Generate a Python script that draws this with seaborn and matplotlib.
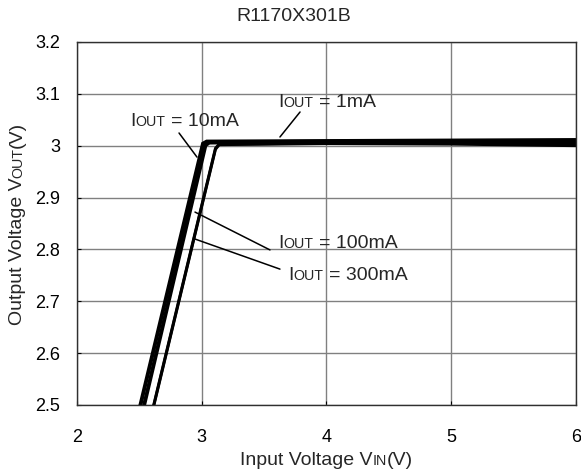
import numpy as np
import pandas as pd
import seaborn as sns
import matplotlib.pyplot as plt
from matplotlib.transforms import offset_copy

# >>>>>>  data  <<<<<<<
vin_1ma = [2.40, 3.01, 3.04, 4.0, 5.0, 6.0]
vout_1ma = [2.391, 3.004, 3.008, 3.009, 3.010, 3.011]
vin_10ma = [2.40, 3.03, 3.06, 4.0, 5.0, 6.0]
vout_10ma = [2.359, 3.001, 3.006, 3.008, 3.008, 3.009]
vin_100ma = [2.50, 3.11, 3.14, 4.0, 5.0, 6.0]
vout_100ma = [2.385, 2.995, 3.003, 3.005, 3.005, 3.004]
vin_300ma = [2.50, 3.11, 3.14, 4.0, 5.0, 6.0]
vout_300ma = [2.383, 2.993, 3.002, 3.004, 3.003, 3.000]

x_ticks = [2, 3, 4, 5, 6]
y_ticks = [2.5, 2.6, 2.7, 2.8, 2.9, 3.0, 3.1, 3.2]
y_tick_labels = ["2.5", "2.6", "2.7", "2.8", "2.9", "3", "3.1", "3.2"]

series = [
    ("1mA", vin_1ma, vout_1ma, 2.8),
    ("10mA", vin_10ma, vout_10ma, 2.8),
    ("100mA", vin_100ma, vout_100ma, 2.1),
    ("300mA", vin_300ma, vout_300ma, 2.1),
]

sns.set_style("ticks")
plt.rcParams["font.family"] = ["Liberation Sans", "DejaVu Sans"]

BIG = 14
SMALL = 10.3


def advance(fig, s, size):
    # text advance width in pixels (keeps spaces)
    r = fig.canvas.get_renderer()
    a = fig.text(0, 0, "|" + s + "|", fontsize=size)
    b = fig.text(0, 0, "||", fontsize=size)
    w = a.get_window_extent(r).width - b.get_window_extent(r).width
    a.remove()
    b.remove()
    return w


def rich_text(ax, x, y, pieces, transform, rotation=0, center=False):
    fig = ax.figure
    advs = [advance(fig, s, sz) for s, sz in pieces]
    off = -sum(advs) / 2 if center else 0.0
    for (s, sz), w in zip(pieces, advs):
        lead = len(s) - len(s.lstrip(" "))
        shift = off + lead * advance(fig, " ", sz)
        dx, dy = (shift, 0) if rotation == 0 else (0, shift)
        tr = offset_copy(transform, fig=fig, x=dx, y=dy, units="dots")
        ax.text(x, y, s.strip(" "), fontsize=sz, transform=tr, rotation=rotation,
                rotation_mode="anchor", ha="left", va="baseline", clip_on=False)
        off += w


fig, ax = plt.subplots(figsize=(5.81, 4.76), dpi=100)
fig.subplots_adjust(left=0.1325, right=0.9914, bottom=0.1492, top=0.9118)

for name, vx, vy, lw in series:
    sns.lineplot(x=vx, y=vy, ax=ax, color="black", linewidth=lw, sort=False,
                 solid_joinstyle="miter")

ax.set_xlim(2, 6)
ax.set_ylim(2.5, 3.2)
ax.set_xticks(x_ticks)
ax.set_yticks(y_ticks)
ax.set_yticklabels(y_tick_labels)
ax.tick_params(direction="in", length=3, labelsize=13, colors="black")
ax.tick_params(axis="x", pad=17)
ax.tick_params(axis="y", pad=12)
ax.grid(True, color="#808080", linewidth=1.0)
ax.set_axisbelow(True)
for sp in ax.spines.values():
    sp.set_color("#303030")
    sp.set_linewidth(1.0)

ax.set_title("R1170X301B", fontsize=BIG, x=0.435, pad=15)

# axis labels with small-caps subscripts
rich_text(ax, 0.5, -0.165, [("Input Voltage V", BIG), ("IN", SMALL), ("(V)", BIG)],
          ax.transAxes, center=True)
rich_text(ax, -0.11, 0.5, [("Output Voltage V", BIG), ("OUT", SMALL), ("(V)", BIG)],
          ax.transAxes, rotation=90, center=True)

# curve labels with leader lines
labels = [
    ("10mA", (2.425, 3.0376), (2.818, 3.0245), (2.962, 2.978)),
    ("1mA", (3.611, 3.0746), (3.788, 3.065), (3.627, 3.0168)),
    ("100mA", (3.611, 2.8027), (3.547, 2.799), (2.946, 2.872)),
    ("300mA", (3.691, 2.741), (3.627, 2.762), (2.946, 2.820)),
]
for cur, pos, p0, p1 in labels:
    rich_text(ax, pos[0], pos[1], [("I", BIG), ("OUT", SMALL), (" = " + cur, BIG)],
              ax.transData)
    ax.annotate("", xy=p1, xytext=p0,
                arrowprops=dict(arrowstyle="-", color="black", lw=1.1,
                                shrinkA=0, shrinkB=0))

fig.savefig("out.png", dpi=100)
